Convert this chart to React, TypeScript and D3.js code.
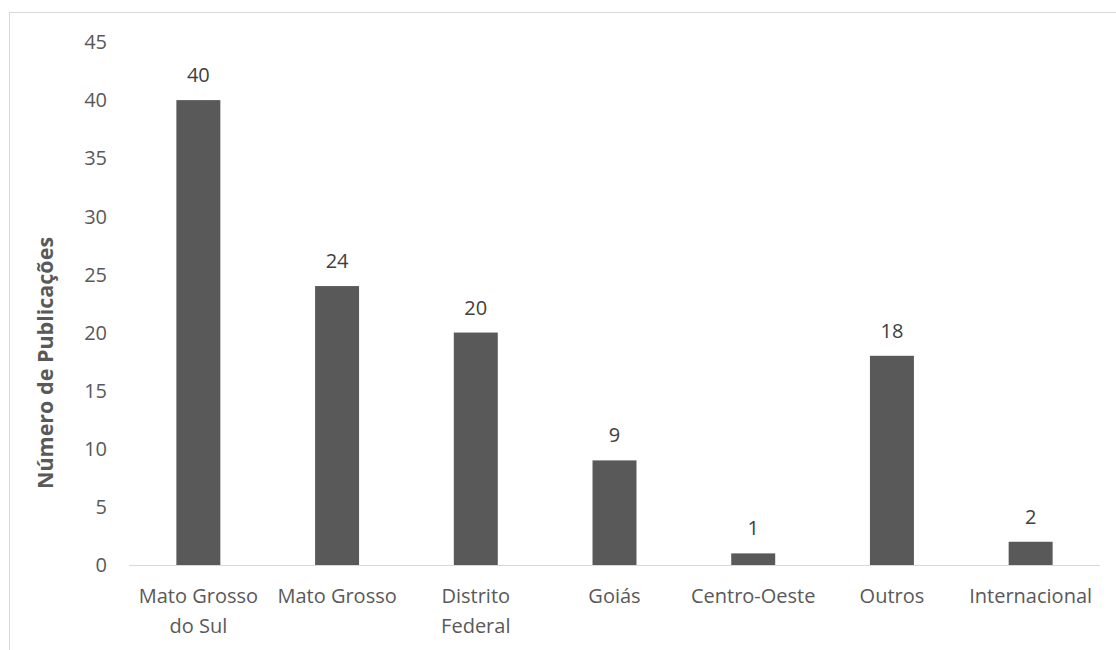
import React from "react";
import * as d3 from "d3";

const categories: string[][] = [
  ["Mato Grosso", "do Sul"],
  ["Mato Grosso"],
  ["Distrito", "Federal"],
  ["Goiás"],
  ["Centro-Oeste"],
  ["Outros"],
  ["Internacional"],
];
const values: number[] = [40, 24, 20, 9, 1, 18, 2];
const yTicks: number[] = [0, 5, 10, 15, 20, 25, 30, 35, 40, 45];
const yTitle = "Número de Publicações";

export default function App() {
  const W = 1116, H = 650;
  const left = 129, right = 1100, top = 42, bottom = 565;
  const x = d3.scaleBand<number>().domain(d3.range(values.length)).range([left, right]).paddingInner(0.683).paddingOuter(0.3415);
  const y = d3.scaleLinear().domain([0, 45]).range([bottom, top]);
  const font = "'Open Sans', sans-serif";
  const textColor = "#595959";
  const fs = 20;
  return (
    <svg width={W} height={H} style={{ position: "absolute", left: 0, top: 0 }}>
      <rect x={0} y={0} width={W} height={H} fill="#fff" />
      <rect x={9.5} y={12.5} width={W + 20} height={H + 20} fill="none" stroke="#d9d9d9" strokeWidth={1} />
      {yTicks.map((t) => (
        <text key={t} x={107} y={y(t)} dy="0.36em" textAnchor="end" fontFamily={font} fontSize={fs} fill={textColor}>
          {t}
        </text>
      ))}
      <line x1={left} x2={right} y1={bottom + 0.5} y2={bottom + 0.5} stroke="#d9d9d9" strokeWidth={1} />
      {values.map((v, i) => (
        <g key={i}>
          <rect x={x(i)!} y={y(v)} width={x.bandwidth()} height={bottom - y(v)} fill="#595959" />
          <text x={x(i)! + x.bandwidth() / 2} y={y(v) - 18} textAnchor="middle" fontFamily={font} fontSize={fs} fill="#404040">
            {v}
          </text>
          {categories[i].map((line, j) => (
            <text key={j} x={x(i)! + x.bandwidth() / 2} y={603 + j * 30} textAnchor="middle" fontFamily={font} fontSize={fs} fill={textColor}>
              {line}
            </text>
          ))}
        </g>
      ))}
      <text transform={`translate(53,363) rotate(-90)`} textAnchor="middle" fontFamily={font} fontSize={21.5} fontWeight="bold" fill={textColor}>
        {yTitle}
      </text>
    </svg>
  );
}
